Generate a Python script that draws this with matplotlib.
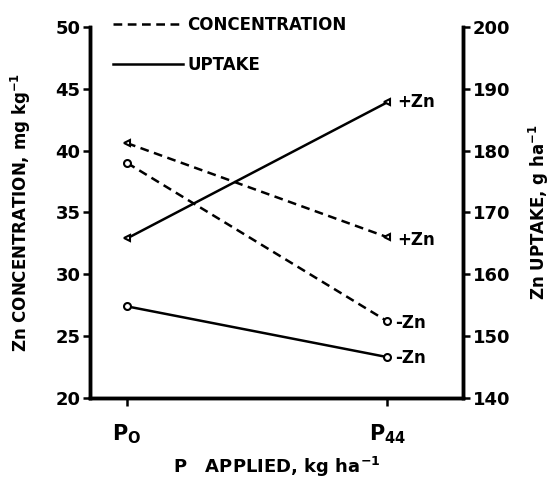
"""
Zn concentration and uptake vs applied P, with and without Zn.
"""

import matplotlib
matplotlib.use("Agg")
import matplotlib.pyplot as plt

matplotlib.rcParams['font.family'] = 'DejaVu Sans'
matplotlib.rcParams['font.weight'] = 'bold'

P_LEVELS = ["$\\mathregular{P_O}$", "$\\mathregular{P_{44}}$"]
P_POS = [0, 1]

CONC_PLUS_ZN = [40.6, 33.0]
CONC_MINUS_ZN = [39.0, 26.2]
UPTAKE_PLUS_ZN = [165.8, 187.8]
UPTAKE_MINUS_ZN = [154.8, 146.6]

LEFT_TICKS = [20, 25, 30, 35, 40, 45, 50]
RIGHT_TICKS = [140, 150, 160, 170, 180, 190, 200]


def main():
    fig = plt.figure(figsize=(5.6, 4.9), dpi=100)
    ax = fig.add_axes([0.161, 0.188, 0.666, 0.757])
    ax2 = ax.twinx()

    dash = (0, (3.5, 2.2))
    mk = dict(markersize=5, markerfacecolor="white", markeredgecolor="black",
              markeredgewidth=1.5, color="black", linewidth=1.8)

    ax.plot(P_POS, CONC_PLUS_ZN, linestyle=dash, marker="<", **mk)
    ax.plot(P_POS, CONC_MINUS_ZN, linestyle=dash, marker="o", **mk)
    ax2.plot(P_POS, UPTAKE_PLUS_ZN, linestyle="-", marker="<", **mk)
    ax2.plot(P_POS, UPTAKE_MINUS_ZN, linestyle="-", marker="o", **mk)

    # end labels
    lab = dict(fontsize=12, fontweight="bold", va="center", ha="left")
    ax.annotate("+Zn", (P_POS[1], CONC_PLUS_ZN[1]), xytext=(7, -2),
                textcoords="offset points", **lab)
    ax.annotate("-Zn", (P_POS[1], CONC_MINUS_ZN[1]), xytext=(6, -1),
                textcoords="offset points", **lab)
    ax2.annotate("+Zn", (P_POS[1], UPTAKE_PLUS_ZN[1]), xytext=(7, 0),
                 textcoords="offset points", **lab)
    ax2.annotate("-Zn", (P_POS[1], UPTAKE_MINUS_ZN[1]), xytext=(6, -1),
                 textcoords="offset points", **lab)

    ax.set_xlim(-0.142, 1.292)
    ax.set_ylim(20, 50)
    ax2.set_ylim(140, 200)

    ax.set_xticks(P_POS)
    ax.set_xticklabels(P_LEVELS, fontsize=15)
    ax.set_yticks(LEFT_TICKS)
    ax.set_yticklabels([str(t) for t in LEFT_TICKS], fontsize=13)
    ax2.set_yticks(RIGHT_TICKS)
    ax2.set_yticklabels([str(t) for t in RIGHT_TICKS], fontsize=13)

    for a in (ax, ax2):
        for s in a.spines.values():
            s.set_linewidth(2.5)
        a.spines["top"].set_visible(False)
    ax.tick_params(axis="y", direction="out", length=5, width=1.8, pad=2)
    ax.tick_params(axis="x", direction="out", length=6, width=1.8, pad=12)
    ax2.tick_params(axis="y", direction="out", length=5, width=1.8, pad=2)

    ax.set_ylabel("Zn CONCENTRATION, mg kg$^{-1}$", fontsize=12,
                  fontweight="bold", labelpad=16)
    ax2.set_ylabel("Zn UPTAKE, g ha$^{-1}$", fontsize=12,
                   fontweight="bold", labelpad=12)
    ax.set_xlabel("P   APPLIED, kg ha$^{-1}$", fontsize=13,
                  fontweight="bold", labelpad=6)

    # legend
    h1, = ax.plot([], [], color="black", linestyle=dash, linewidth=1.8)
    h2, = ax.plot([], [], color="black", linestyle="-", linewidth=1.8)
    leg = ax.legend([h1, h2], ["CONCENTRATION", "UPTAKE"], loc="upper left",
                    bbox_to_anchor=(0.02, 1.07), frameon=False, fontsize=12,
                    handlelength=4.2, handletextpad=0.3, labelspacing=1.3)
    for t in leg.get_texts():
        t.set_fontweight("bold")

    fig.savefig("out.png", dpi=100)
    plt.close(fig)


if __name__ == "__main__":
    main()
